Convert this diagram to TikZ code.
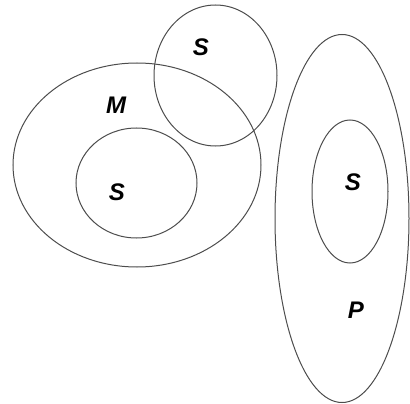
\documentclass[tikz,border=0pt]{standalone}
\usepackage{fontspec}
\setmainfont{Liberation Sans}
\begin{document}
\begin{tikzpicture}[x=1pt,y=-1pt,
  setline/.style={draw=black!70,line width=1pt},
  lbl/.style={font=\fontsize{24}{28}\selectfont\bfseries\itshape,text=black,inner sep=0pt}]
\useasboundingbox (0,0) rectangle (410,404);
\draw[setline] (137,165) ellipse [x radius=124, y radius=102];
\draw[setline] (136.5,183) ellipse [x radius=60.5, y radius=55];
\draw[setline] (215.5,75.5) ellipse [x radius=61.5, y radius=70.5];
\draw[setline] (342,218.5) ellipse [x radius=67, y radius=184];
\draw[setline] (350,191.5) ellipse [x radius=38, y radius=71.5];
\node[lbl] (m) at (116,105) {M};
\node[lbl] (s1) at (117,192) {S};
\node[lbl] (s2) at (201,47) {S};
\node[lbl] (s3) at (353,182) {S};
\node[lbl] (p) at (356,310) {P};
\end{tikzpicture}
\end{document}
